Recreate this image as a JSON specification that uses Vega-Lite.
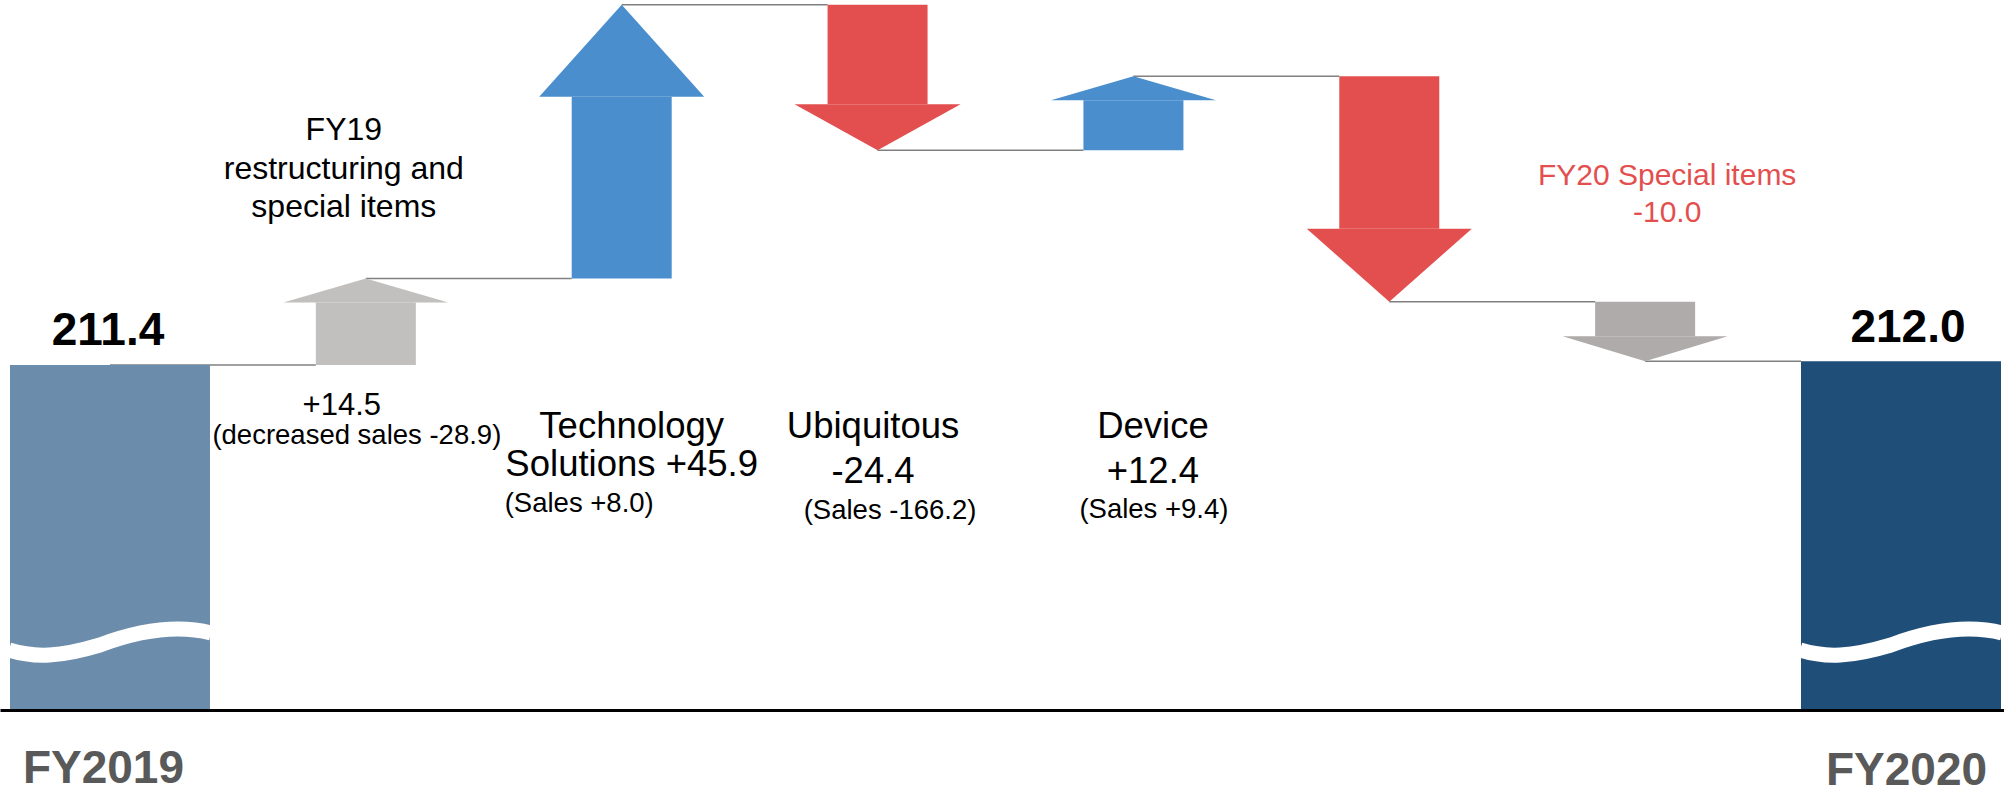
{
  "$schema": "https://vega.github.io/schema/vega-lite/v6.json",
  "width": 2004,
  "height": 709,
  "autosize": {"type": "none"},
  "padding": {"left": 0, "right": 0, "top": 0, "bottom": 86},
  "background": "#ffffff",
  "config": {"view": {"stroke": null}, "font": "Liberation Sans"},
  "data": {
    "values": [
      {"item": "FY2019", "start": null, "end": 211.4, "delta": null, "next": "FY19 restructuring and special items", "text1": "211.4"},
      {"item": "FY19 restructuring and special items", "start": 211.4, "end": 225.9, "delta": 14.5, "next": "Technology Solutions", "text1": "FY19\nrestructuring and\nspecial items", "text2": "+14.5", "text3": "(decreased sales -28.9)"},
      {"item": "Technology Solutions", "start": 225.9, "end": 271.8, "delta": 45.9, "next": "Ubiquitous", "text1": "Technology\nSolutions +45.9", "text3": "(Sales +8.0)"},
      {"item": "Ubiquitous", "start": 271.8, "end": 247.4, "delta": -24.4, "next": "Device", "text1": "Ubiquitous\n-24.4", "text3": "(Sales -166.2)"},
      {"item": "Device", "start": 247.4, "end": 259.8, "delta": 12.4, "next": "Other", "text1": "Device\n+12.4", "text3": "(Sales +9.4)"},
      {"item": "Other", "start": 259.8, "end": 222.0, "delta": -37.8, "next": "FY20 Special items"},
      {"item": "FY20 Special items", "start": 222.0, "end": 212.0, "delta": -10.0, "next": "FY2020", "text1": "FY20 Special items\n-10.0"},
      {"item": "FY2020", "start": null, "end": 212.0, "delta": null, "next": null, "text1": "212.0"}
    ]
  },
  "encoding": {
    "x": {
      "field": "item",
      "type": "nominal",
      "scale": {
        "type": "point",
        "domain": ["FY2019", "FY19 restructuring and special items", "Technology Solutions", "Ubiquitous", "Device", "Other", "FY20 Special items", "FY2020"],
        "padding": 0.4162,
        "align": 0.5164
      },
      "axis": {
        "title": null,
        "orient": "bottom",
        "domain": true,
        "domainColor": "#000000",
        "domainWidth": 3,
        "ticks": false,
        "tickSize": 0,
        "grid": false,
        "labelExpr": "datum.value === 'FY2019' || datum.value === 'FY2020' ? datum.value : ''",
        "labelFont": "Liberation Sans",
        "labelFontSize": 46,
        "labelFontWeight": "bold",
        "labelColor": "#595959",
        "labelAngle": 0,
        "labelAlign": "center",
        "labelBaseline": "alphabetic",
        "labelOverlap": false,
        "labelPadding": {"condition": {"test": "datum.value === 'FY2019'", "value": 72}, "value": 74},
        "labelOffset": {"condition": {"test": "datum.value === 'FY2019'", "value": -7}, "value": 5},
        "offset": 1,
        "zindex": 1
      }
    }
  },
  "layer": [
    {
      "transform": [{"filter": "datum.next != null && datum.next !== 'FY2020'"}],
      "mark": {"type": "rule", "color": "#808080", "strokeWidth": 1.5, "x2Offset": -50},
      "encoding": {
        "x2": {"field": "next"},
        "y": {"field": "end", "type": "quantitative", "scale": {"domain": [153.7, 272.6], "zero": false, "nice": false}, "axis": null}
      }
    },
    {
      "transform": [{"filter": "datum.next === 'FY2020'"}],
      "mark": {"type": "rule", "color": "#808080", "strokeWidth": 1.5, "x2Offset": -100},
      "encoding": {
        "x2": {"field": "next"},
        "y": {"field": "end", "type": "quantitative", "scale": {"domain": [153.7, 272.6], "zero": false, "nice": false}, "axis": null}
      }
    },
    {
      "transform": [{"filter": "datum.item === 'FY2019' || datum.item === 'FY2020'"}],
      "mark": {"type": "bar", "size": 200},
      "encoding": {
        "y": {"field": "end", "type": "quantitative", "scale": {"domain": [153.7, 272.6], "zero": false, "nice": false}, "axis": null},
        "y2": {"datum": 153.7},
        "color": {"field": "item", "type": "nominal", "scale": {"domain": ["FY2019", "FY2020"], "range": ["#6b8caa", "#1f4e78"]}, "legend": null}
      }
    },
    {
      "transform": [{"filter": "datum.item === 'FY2019' || datum.item === 'FY2020'"}],
      "mark": {"type": "point", "shape": "M-101,8C-75,16 -50,15 -10,3C25,-10 65,-18 101,-9", "size": 4, "filled": false, "stroke": "#ffffff", "strokeWidth": 15, "strokeCap": "butt", "opacity": 1},
      "encoding": {
        "y": {"datum": 164.94, "type": "quantitative", "scale": {"domain": [153.7, 272.6], "zero": false, "nice": false}, "axis": null}
      }
    },
    {
      "transform": [{"filter": "datum.item === 'FY19 restructuring and special items'"}],
      "layer": [
        {"mark": {"type": "bar", "size": 100, "y2Offset": 24, "color": "#c1c0be"},
         "encoding": {"y": {"field": "start", "type": "quantitative", "scale": {"domain": [153.7, 272.6], "zero": false, "nice": false}, "axis": null}, "y2": {"field": "end"}}},
        {"mark": {"type": "point", "shape": "M0,0L82.5,24L-82.5,24Z", "size": 4, "filled": true, "opacity": 1, "color": "#c1c0be"},
         "encoding": {"y": {"field": "end", "type": "quantitative", "scale": {"domain": [153.7, 272.6], "zero": false, "nice": false}, "axis": null}}}
      ]
    },
    {
      "transform": [{"filter": "datum.item === 'Technology Solutions'"}],
      "layer": [
        {"mark": {"type": "bar", "size": 100, "y2Offset": 92, "color": "#4a8ecd"},
         "encoding": {"y": {"field": "start", "type": "quantitative", "scale": {"domain": [153.7, 272.6], "zero": false, "nice": false}, "axis": null}, "y2": {"field": "end"}}},
        {"mark": {"type": "point", "shape": "M0,0L82.5,92L-82.5,92Z", "size": 4, "filled": true, "opacity": 1, "color": "#4a8ecd"},
         "encoding": {"y": {"field": "end", "type": "quantitative", "scale": {"domain": [153.7, 272.6], "zero": false, "nice": false}, "axis": null}}}
      ]
    },
    {
      "transform": [{"filter": "datum.item === 'Ubiquitous'"}],
      "layer": [
        {"mark": {"type": "bar", "size": 100, "y2Offset": -46, "color": "#e34f4f"},
         "encoding": {"y": {"field": "start", "type": "quantitative", "scale": {"domain": [153.7, 272.6], "zero": false, "nice": false}, "axis": null}, "y2": {"field": "end"}}},
        {"mark": {"type": "point", "shape": "M0,0L83,-46L-83,-46Z", "size": 4, "filled": true, "opacity": 1, "color": "#e34f4f"},
         "encoding": {"y": {"field": "end", "type": "quantitative", "scale": {"domain": [153.7, 272.6], "zero": false, "nice": false}, "axis": null}}}
      ]
    },
    {
      "transform": [{"filter": "datum.item === 'Device'"}],
      "layer": [
        {"mark": {"type": "bar", "size": 100, "y2Offset": 24, "color": "#4a8ecd"},
         "encoding": {"y": {"field": "start", "type": "quantitative", "scale": {"domain": [153.7, 272.6], "zero": false, "nice": false}, "axis": null}, "y2": {"field": "end"}}},
        {"mark": {"type": "point", "shape": "M0,0L82.5,24L-82.5,24Z", "size": 4, "filled": true, "opacity": 1, "color": "#4a8ecd"},
         "encoding": {"y": {"field": "end", "type": "quantitative", "scale": {"domain": [153.7, 272.6], "zero": false, "nice": false}, "axis": null}}}
      ]
    },
    {
      "transform": [{"filter": "datum.item === 'Other'"}],
      "layer": [
        {"mark": {"type": "bar", "size": 100, "y2Offset": -73, "color": "#e34f4f"},
         "encoding": {"y": {"field": "start", "type": "quantitative", "scale": {"domain": [153.7, 272.6], "zero": false, "nice": false}, "axis": null}, "y2": {"field": "end"}}},
        {"mark": {"type": "point", "shape": "M0,0L82.5,-73L-82.5,-73Z", "size": 4, "filled": true, "opacity": 1, "color": "#e34f4f"},
         "encoding": {"y": {"field": "end", "type": "quantitative", "scale": {"domain": [153.7, 272.6], "zero": false, "nice": false}, "axis": null}}}
      ]
    },
    {
      "transform": [{"filter": "datum.item === 'FY20 Special items'"}],
      "layer": [
        {"mark": {"type": "bar", "size": 100, "y2Offset": -25, "color": "#aeabaa"},
         "encoding": {"y": {"field": "start", "type": "quantitative", "scale": {"domain": [153.7, 272.6], "zero": false, "nice": false}, "axis": null}, "y2": {"field": "end"}}},
        {"mark": {"type": "point", "shape": "M0,0L82.5,-25L-82.5,-25Z", "size": 4, "filled": true, "opacity": 1, "color": "#aeabaa"},
         "encoding": {"y": {"field": "end", "type": "quantitative", "scale": {"domain": [153.7, 272.6], "zero": false, "nice": false}, "axis": null}}}
      ]
    },
    {
      "transform": [{"filter": "datum.item === 'FY2019'"}],
      "mark": {"type": "text", "fontSize": 46, "fontWeight": "bold", "color": "#000000", "align": "center", "baseline": "alphabetic", "dx": -2, "dy": -20},
      "encoding": {
        "y": {"field": "end", "type": "quantitative", "scale": {"domain": [153.7, 272.6], "zero": false, "nice": false}, "axis": null},
        "text": {"field": "text1", "type": "nominal"}
      }
    },
    {
      "transform": [{"filter": "datum.item === 'FY2020'"}],
      "mark": {"type": "text", "fontSize": 46, "fontWeight": "bold", "color": "#000000", "align": "center", "baseline": "alphabetic", "dx": 7, "dy": -19},
      "encoding": {
        "y": {"field": "end", "type": "quantitative", "scale": {"domain": [153.7, 272.6], "zero": false, "nice": false}, "axis": null},
        "text": {"field": "text1", "type": "nominal"}
      }
    },
    {
      "transform": [{"filter": "datum.item === 'FY19 restructuring and special items'"}],
      "mark": {"type": "text", "fontSize": 32, "color": "#000000", "align": "center", "baseline": "alphabetic", "lineBreak": "\n", "lineHeight": 38.5, "dx": -22},
      "encoding": {
        "y": {"datum": 249.12, "type": "quantitative", "scale": {"domain": [153.7, 272.6], "zero": false, "nice": false}, "axis": null},
        "text": {"field": "text1", "type": "nominal"}
      }
    },
    {
      "transform": [{"filter": "datum.item === 'FY19 restructuring and special items'"}],
      "mark": {"type": "text", "fontSize": 31, "color": "#000000", "align": "center", "baseline": "alphabetic", "dx": -24},
      "encoding": {
        "y": {"datum": 203.0, "type": "quantitative", "scale": {"domain": [153.7, 272.6], "zero": false, "nice": false}, "axis": null},
        "text": {"field": "text2", "type": "nominal"}
      }
    },
    {
      "transform": [{"filter": "datum.item === 'FY19 restructuring and special items'"}],
      "mark": {"type": "text", "fontSize": 27.5, "color": "#000000", "align": "center", "baseline": "alphabetic", "dx": -9},
      "encoding": {
        "y": {"datum": 198.2, "type": "quantitative", "scale": {"domain": [153.7, 272.6], "zero": false, "nice": false}, "axis": null},
        "text": {"field": "text3", "type": "nominal"}
      }
    },
    {
      "transform": [{"filter": "datum.item === 'Technology Solutions'"}],
      "mark": {"type": "text", "fontSize": 36.5, "color": "#000000", "align": "center", "baseline": "alphabetic", "lineBreak": "\n", "lineHeight": 38, "dx": 10},
      "encoding": {
        "y": {"datum": 199.15, "type": "quantitative", "scale": {"domain": [153.7, 272.6], "zero": false, "nice": false}, "axis": null},
        "text": {"field": "text1", "type": "nominal"}
      }
    },
    {
      "transform": [{"filter": "datum.item === 'Technology Solutions'"}],
      "mark": {"type": "text", "fontSize": 27.5, "color": "#000000", "align": "left", "baseline": "alphabetic", "dx": -117},
      "encoding": {
        "y": {"datum": 186.74, "type": "quantitative", "scale": {"domain": [153.7, 272.6], "zero": false, "nice": false}, "axis": null},
        "text": {"field": "text3", "type": "nominal"}
      }
    },
    {
      "transform": [{"filter": "datum.item === 'Ubiquitous'"}],
      "mark": {"type": "text", "fontSize": 36.5, "color": "#000000", "align": "center", "baseline": "alphabetic", "lineBreak": "\n", "lineHeight": 45, "dx": -4.5},
      "encoding": {
        "y": {"datum": 199.15, "type": "quantitative", "scale": {"domain": [153.7, 272.6], "zero": false, "nice": false}, "axis": null},
        "text": {"field": "text1", "type": "nominal"}
      }
    },
    {
      "transform": [{"filter": "datum.item === 'Ubiquitous'"}],
      "mark": {"type": "text", "fontSize": 27.5, "color": "#000000", "align": "center", "baseline": "alphabetic", "dx": 12.5},
      "encoding": {
        "y": {"datum": 185.56, "type": "quantitative", "scale": {"domain": [153.7, 272.6], "zero": false, "nice": false}, "axis": null},
        "text": {"field": "text3", "type": "nominal"}
      }
    },
    {
      "transform": [{"filter": "datum.item === 'Device'"}],
      "mark": {"type": "text", "fontSize": 36.5, "color": "#000000", "align": "center", "baseline": "alphabetic", "lineBreak": "\n", "lineHeight": 45, "dx": 19.5},
      "encoding": {
        "y": {"datum": 199.15, "type": "quantitative", "scale": {"domain": [153.7, 272.6], "zero": false, "nice": false}, "axis": null},
        "text": {"field": "text1", "type": "nominal"}
      }
    },
    {
      "transform": [{"filter": "datum.item === 'Device'"}],
      "mark": {"type": "text", "fontSize": 27.5, "color": "#000000", "align": "center", "baseline": "alphabetic", "dx": 20.5},
      "encoding": {
        "y": {"datum": 185.73, "type": "quantitative", "scale": {"domain": [153.7, 272.6], "zero": false, "nice": false}, "axis": null},
        "text": {"field": "text3", "type": "nominal"}
      }
    },
    {
      "transform": [{"filter": "datum.item === 'FY20 Special items'"}],
      "mark": {"type": "text", "fontSize": 30, "color": "#e34f4f", "align": "center", "baseline": "alphabetic", "lineBreak": "\n", "lineHeight": 37, "dx": 22},
      "encoding": {
        "y": {"datum": 241.58, "type": "quantitative", "scale": {"domain": [153.7, 272.6], "zero": false, "nice": false}, "axis": null},
        "text": {"field": "text1", "type": "nominal"}
      }
    }
  ]
}
